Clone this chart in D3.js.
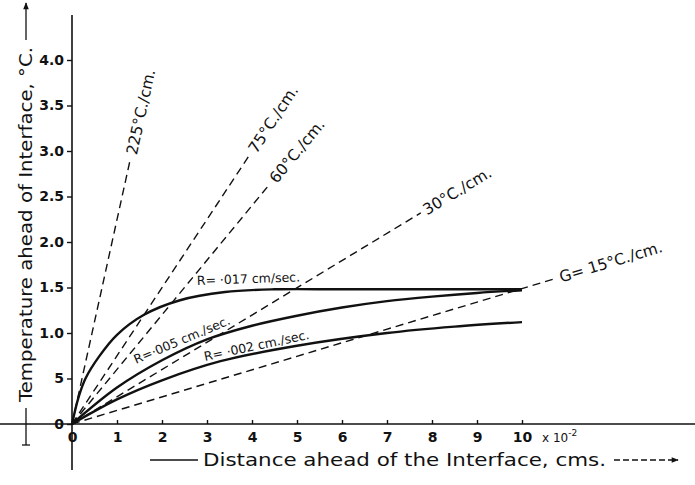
<!DOCTYPE html>
<html>
<head>
<meta charset="utf-8">
<script src="https://cdn.jsdelivr.net/npm/d3@7"></script>
<style>
  body { margin: 0; background: #fff; }
  text { font-family: "DejaVu Sans", sans-serif; fill: #111; }
</style>
</head>
<body>
<svg id="chart" width="695" height="485"></svg>
<script>
// tick values / labels
const xTicks = [0, 1, 2, 3, 4, 5, 6, 7, 8, 9, 10];
const yTicks = [0, 0.5, 1, 1.5, 2, 2.5, 3, 3.5, 4];
const yTickLabels = ["0", "5", "1.0", "1.5", "2.0", "2.5", "3.0", "3.5", "4.0"];

// temperature gradient lines (dashed), end point
const gradLabels = ["225°C./cm.", "75°C./cm.", "60°C./cm.", "30°C./cm.", "G= 15°C./cm."];
const gradEndX = [1.3, 3.95, 4.4, 7.75, 10.75];
const gradEndT = [2.92, 2.96, 2.64, 2.32, 1.6];

// growth rate curves (solid)
const r017X = [0, 0.15, 0.3, 0.6, 1, 1.6, 2.4, 3.4, 4.5, 6, 8, 10];
const r017T = [0, 0.30, 0.50, 0.74, 0.98, 1.20, 1.36, 1.45, 1.48, 1.48, 1.48, 1.48];
const r005X = [0, 1, 2, 3, 4, 5, 6, 7, 8, 9, 10];
const r005T = [0, 0.40, 0.70, 0.93, 1.08, 1.19, 1.28, 1.35, 1.40, 1.44, 1.47];
const r002X = [0, 1, 2, 3.3, 5, 7, 8.5, 10];
const r002T = [0, 0.27, 0.48, 0.69, 0.86, 1.0, 1.07, 1.12];

const svg = d3.select("#chart");

const x = d3.scaleLinear().domain([0, 10]).range([72, 522]);
const y = d3.scaleLinear().domain([0, 4]).range([424, 60]);

// arrow head
svg.append("defs").append("marker")
  .attr("id", "arrow")
  .attr("viewBox", "0 0 10 10")
  .attr("refX", 9).attr("refY", 5)
  .attr("markerWidth", 9).attr("markerHeight", 7)
  .attr("markerUnits", "userSpaceOnUse")
  .attr("orient", "auto")
  .append("path").attr("d", "M0,1 L10,5 L0,9 Z").attr("fill", "#111");

// axes lines
svg.append("line").attr("x1", 0).attr("x2", 695).attr("y1", y(0)).attr("y2", y(0))
  .attr("stroke", "#111").attr("stroke-width", 1.6);
svg.append("line").attr("x1", x(0)).attr("x2", x(0)).attr("y1", 15).attr("y2", 470)
  .attr("stroke", "#111").attr("stroke-width", 1.6);

// y axis
const yAxis = svg.append("g")
  .attr("transform", `translate(${x(0)},0)`)
  .call(d3.axisLeft(y).tickValues(yTicks).tickFormat((d, i) => yTickLabels[i]).tickSize(5).tickPadding(3));
yAxis.select(".domain").remove();
yAxis.selectAll("line").attr("stroke", "#111").attr("stroke-width", 1.4);
yAxis.selectAll("text").style("font-size", "14px").style("font-weight", "bold").attr("fill", "#111");

// x axis, ticks pointing up
const xAxis = svg.append("g")
  .attr("transform", `translate(0,${y(0)})`)
  .call(d3.axisBottom(x).tickValues(xTicks).tickFormat(d => d).tickSize(-4).tickPadding(8));
xAxis.select(".domain").remove();
xAxis.selectAll("line").attr("stroke", "#111").attr("stroke-width", 1.4);
xAxis.selectAll("text").style("font-size", "14px").style("font-weight", "bold").attr("fill", "#111");

svg.append("text").attr("x", 542).attr("y", 442).style("font-size", "12px").text("x 10")
  .append("tspan").attr("dy", -6).style("font-size", "9px").text("-2");

// gradient lines
gradLabels.forEach((lab, i) => {
  const x1 = x(gradEndX[i]), y1 = y(gradEndT[i]);
  svg.append("line")
    .attr("x1", x(0)).attr("y1", y(0)).attr("x2", x1).attr("y2", y1)
    .attr("stroke", "#111").attr("stroke-width", 1.4).attr("stroke-dasharray", "8,5");
  const ang = Math.atan2(y1 - y(0), x1 - x(0)) * 180 / Math.PI;
  svg.append("text")
    .attr("transform", `translate(${x1},${y1}) rotate(${ang})`)
    .attr("x", 4).attr("dy", "0.35em")
    .style("font-size", "15.5px")
    .text(lab);
});

// curves
const line = d3.line().x(d => x(d[0])).y(d => y(d[1])).curve(d3.curveCatmullRom.alpha(0.5));
[[r017X, r017T], [r005X, r005T], [r002X, r002T]].forEach(s => {
  svg.append("path")
    .datum(s[0].map((v, i) => [v, s[1][i]]))
    .attr("d", line)
    .attr("fill", "none").attr("stroke", "#111").attr("stroke-width", 2.4);
});

// curve labels
svg.append("text").attr("transform", "translate(197,285) rotate(-2)")
  .style("font-size", "12.5px").text("R= ·017 cm/sec.");
svg.append("text").attr("transform", "translate(136,364) rotate(-23)")
  .style("font-size", "12.5px").text("R=·005 cm./sec.");
svg.append("text").attr("transform", "translate(205,361) rotate(-12)")
  .style("font-size", "12.5px").text("R= ·002 cm./sec.");

// axis titles
svg.append("line").attr("x1", 150).attr("x2", 198).attr("y1", 460).attr("y2", 460)
  .attr("stroke", "#111").attr("stroke-width", 1.3);
svg.append("text").attr("x", 203).attr("y", 466)
  .attr("textLength", 403).attr("lengthAdjust", "spacingAndGlyphs")
  .style("font-size", "17px").text("Distance ahead of the Interface, cms.");
svg.append("line").attr("x1", 614).attr("x2", 678).attr("y1", 460).attr("y2", 460)
  .attr("stroke", "#111").attr("stroke-width", 1.3).attr("stroke-dasharray", "6,3")
  .attr("marker-end", "url(#arrow)");

const yt = svg.append("g").attr("transform", "translate(32,0)");
yt.append("line").attr("x1", -6).attr("x2", -6).attr("y1", 445).attr("y2", 408)
  .attr("stroke", "#111").attr("stroke-width", 1.3);
yt.append("line").attr("x1", -10).attr("x2", -2).attr("y1", 445).attr("y2", 445)
  .attr("stroke", "#111").attr("stroke-width", 1.3);
yt.append("text").attr("transform", "rotate(-90)").attr("x", -402).attr("y", 0)
  .attr("textLength", 355).attr("lengthAdjust", "spacingAndGlyphs")
  .style("font-size", "17px").text("Temperature ahead of Interface, °C.");
yt.append("line").attr("x1", -6).attr("x2", -6).attr("y1", 40).attr("y2", 3)
  .attr("stroke", "#111").attr("stroke-width", 1.3).attr("marker-end", "url(#arrow)");
</script>
</body>
</html>
